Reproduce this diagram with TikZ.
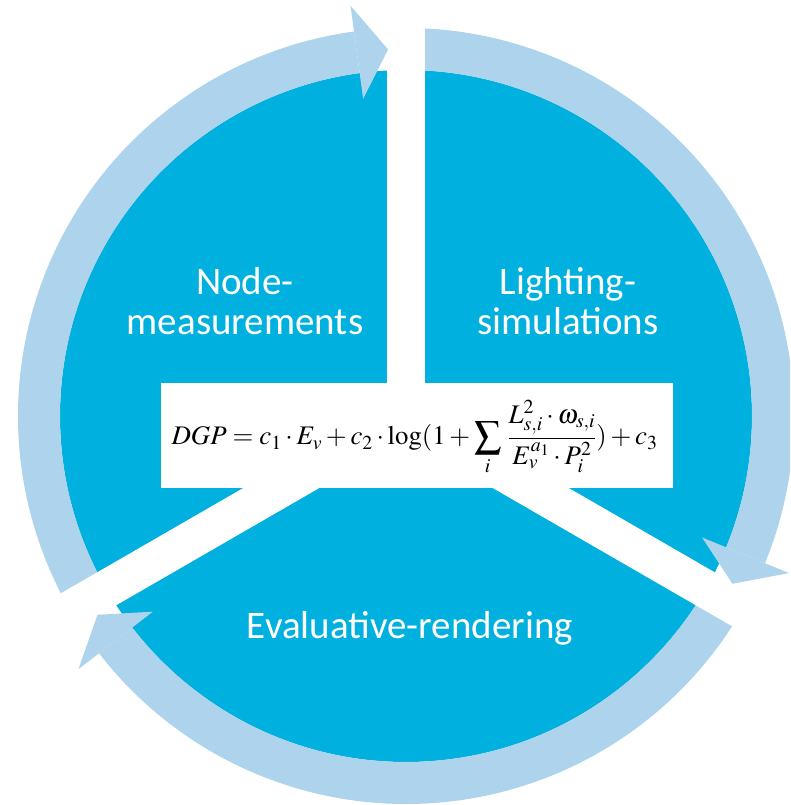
\documentclass[tikz,border=0pt]{standalone}
\usepackage{amsmath}
\usepackage{mathptmx}
\usepackage[no-math]{fontspec}
\usepackage{xcolor}
\usepackage{tikz}
\newfontfamily\labelfont{Carlito}
\definecolor{discblue}{RGB}{0,176,222}
\definecolor{ringblue}{RGB}{173,212,236}
\newcommand\rin{346}
\newcommand\rout{388}
\newcommand\headback{7.7}
\newcommand\headtip{2.8}
\newcommand\dgp{\displaystyle DGP \mathrel{=} c_1 \cdot E_v + c_2 \cdot \log(1 + \sum_i\, \frac{L_{s,i}^2 \cdot \omega_{s,i}}{E_v^{a_1} \cdot P_i^2}) + c_3}
\tikzstyle{ring}=[fill=ringblue]
\tikzstyle{gapband}=[fill=white]
\tikzstyle{phase}=[text=white,font=\labelfont\fontsize{39}{40}\selectfont,align=center,inner sep=0pt]
\tikzstyle{formulabox}=[fill=white,minimum width=512pt,minimum height=105pt,inner sep=0pt]

\begin{document}
\begin{tikzpicture}[x=1pt,y=1pt]
	\useasboundingbox (-406,-389) rectangle (384,416);
	\clip (-406,-389) rectangle (384,416);
	\fill[discblue] (0,0) circle[radius=\rin];
	\foreach \g in {90,210,330}
	  \fill[ring] (\g+\headback:\rin) arc[start angle=\g+\headback, end angle=\g+120, radius=\rin]
	    -- (\g+120:\rout) arc[start angle=\g+120, end angle=\g+\headback, radius=\rout] -- cycle;
	\foreach \g in {90,210,330}
	  \fill[gapband,rotate=\g] (0,-19) rectangle (420,19);
	\foreach \g in {90,210,330}
	  \fill[ring] (\g+\headback:320) -- (\g+\headtip:367) -- (\g+\headback:414) -- cycle;
	\node[formulabox] (dgpbox) at (11,-19.5) {};
	\node[anchor=base,inner sep=0pt,font=\fontsize{26.8}{31}\selectfont] (dgp) at (8.5,-29) {$\dgp$};
	\node[phase,anchor=base] (nodemeas) at (-161,81) {Node-\\measurements};
	\node[phase,anchor=base] (lightsim) at (162,81) {Lighting-\\simulations};
	\node[phase,anchor=base] (evalrend) at (4,-222) {Evaluative-rendering};
\end{tikzpicture}
\end{document}
